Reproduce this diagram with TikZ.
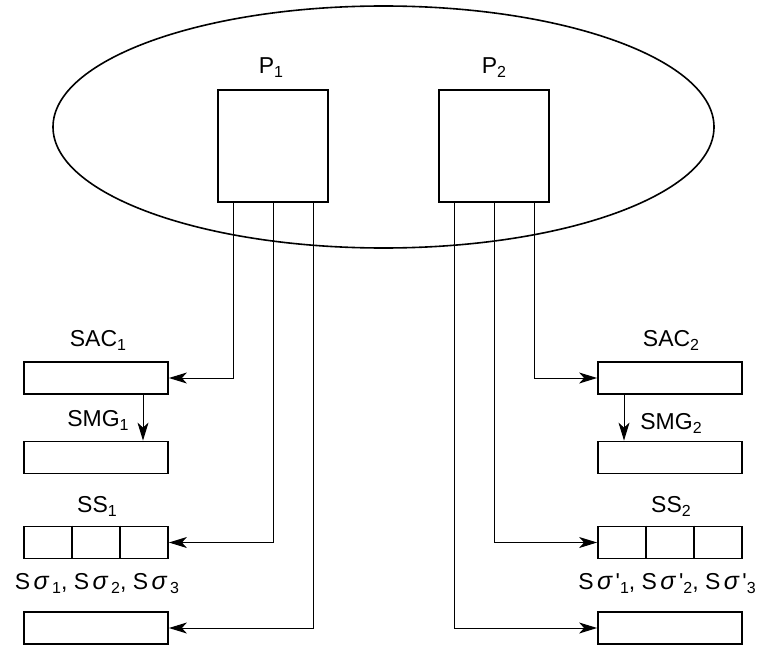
\documentclass[tikz,border=0pt]{standalone}
\usepackage{fontspec}
\setmainfont{Liberation Sans}
\newfontfamily\rawfont{Liberation Sans}[Ligatures=TeXOff]
\usetikzlibrary{shapes.geometric,arrows.meta}
\newcommand{\sbs}[1]{\raisebox{-4pt}{\fontsize{16}{16}\selectfont #1}}
\newcommand{\sig}{\makebox[22pt][c]{\fontsize{25}{25}\selectfont\itshape σ}}
\newcommand{\prm}{{\rawfont '}}
\begin{document}
\begin{tikzpicture}[x=1pt,y=-1pt,
  box/.style={draw,line width=1.8pt,minimum width=144pt,minimum height=32pt,inner sep=0pt,fill=white},
  pbox/.style={draw,line width=1.8pt,minimum width=110pt,minimum height=112pt,inner sep=0pt,fill=white},
  lbl/.style={anchor=base,inner sep=0pt,font=\fontsize{23}{27}\selectfont},
  conn/.style={line width=1pt,-{Stealth[length=18pt,width=11pt,inset=5pt]}},
  divider/.style={line width=1.8pt}]
\useasboundingbox (0,0) rectangle (765,650);
\node[draw,ellipse,line width=1.6pt,minimum width=661pt,minimum height=242pt,inner sep=0pt] (E) at (383.5,127) {};
\node[pbox] (P1) at (273,146) {};
\node[pbox] (P2) at (494,146) {};
\node[lbl] (LP1) at (271,74) {P\sbs{1}};
\node[lbl] (LP2) at (494,74) {P\sbs{2}};
% boxes
\node[box] (SAC1) at (96,378) {};
\node[box] (SMG1) at (96,457.5) {};
\node[box] (SS1) at (96,542.5) {};
\node[box] (SG1) at (96,628) {};
\node[box] (SAC2) at (670,378) {};
\node[box] (SMG2) at (670,457.5) {};
\node[box] (SS2) at (670,542.5) {};
\node[box] (SG2) at (670,628) {};
\draw[divider] ([xshift=-24pt]SS1.north) -- ([xshift=-24pt]SS1.south);
\draw[divider] ([xshift=24pt]SS1.north) -- ([xshift=24pt]SS1.south);
\draw[divider] ([xshift=-24pt]SS2.north) -- ([xshift=-24pt]SS2.south);
\draw[divider] ([xshift=24pt]SS2.north) -- ([xshift=24pt]SS2.south);
% labels
\node[lbl] (LSAC1) at (98,346) {SAC\sbs{1}};
\node[lbl] (LSMG1) at (98,426) {SMG\sbs{1}};
\node[lbl] (LSS1) at (97,512) {SS\sbs{1}};
\node[lbl] (LSG1) at (97,589) {S\sig\sbs{1}, S\sig\sbs{2}, S\sig\sbs{3}};
\node[lbl] (LSAC2) at (671,346) {SAC\sbs{2}};
\node[lbl] (LSMG2) at (671,429) {SMG\sbs{2}};
\node[lbl] (LSS2) at (671,512) {SS\sbs{2}};
\node[lbl] (LSG2) at (667,589) {S\sig\prm\sbs{1}, S\sig\prm\sbs{2}, S\sig\prm\sbs{3}};
% connectors
\draw[conn] ([xshift=-40pt]P1.south) |- (SAC1.east);
\draw[conn] (P1.south) |- (SS1.east);
\draw[conn] ([xshift=40pt]P1.south) |- (SG1.east);
\draw[conn] ([xshift=40pt]P2.south) |- (SAC2.west);
\draw[conn] (P2.south) |- (SS2.west);
\draw[conn] ([xshift=-40pt]P2.south) |- (SG2.west);
\draw[conn] ([xshift=47pt]SAC1.south) -- ([xshift=47pt]SMG1.north);
\draw[conn] ([xshift=-46pt]SAC2.south) -- ([xshift=-46pt]SMG2.north);
\end{tikzpicture}
\end{document}
